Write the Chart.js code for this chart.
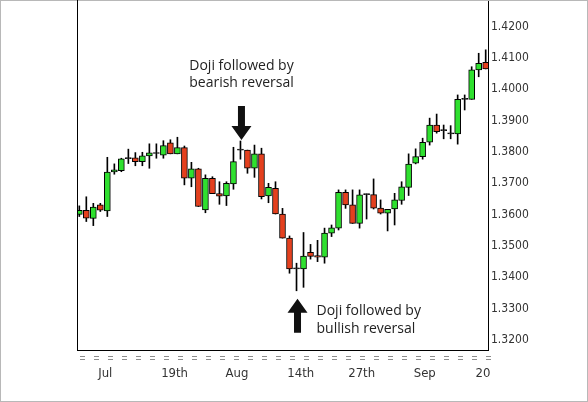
<!DOCTYPE html>
<html>
<head>
<meta charset="utf-8">
<script src="https://cdn.jsdelivr.net/npm/chart.js@4.4.1/dist/chart.umd.min.js"></script>
<style>
  html, body { margin: 0; padding: 0; background: #fff; }
  #wrap { width: 588px; height: 402px; }
</style>
</head>
<body>
<div id="wrap"><canvas id="chart" width="588" height="402"></canvas></div>
<script>
// daily candles, one per trading day (index 0..58)
const opens = [
  1.3601, 1.3614, 1.3588, 1.3631, 1.3612, 1.3736, 1.3740, 1.3779, 1.3781, 1.3769,
  1.3787, 1.3795, 1.3790, 1.3829, 1.3794, 1.3814, 1.3716, 1.3746, 1.3615, 1.3716,
  1.3667, 1.3660, 1.3698, 1.3806, 1.3806, 1.3748, 1.3794, 1.3660, 1.3684, 1.3602,
  1.3525, 1.3427, 1.3427, 1.3480, 1.3469, 1.3464, 1.3541, 1.3557, 1.3671, 1.3631,
  1.3572, 1.3664, 1.3664, 1.3621, 1.3605, 1.3618, 1.3645, 1.3687, 1.3764, 1.3785,
  1.3831, 1.3886, 1.3868, 1.3858, 1.3858, 1.3968, 1.3968, 1.4062, 1.4086,
];
const highs = [
  1.3628, 1.3657, 1.3636, 1.3636, 1.3783, 1.3762, 1.3780, 1.3809, 1.3798, 1.3799,
  1.3826, 1.3826, 1.3836, 1.3839, 1.3847, 1.3819, 1.3767, 1.3748, 1.3727, 1.3721,
  1.3705, 1.3705, 1.3815, 1.3835, 1.3806, 1.3822, 1.3812, 1.3700, 1.3705, 1.3620,
  1.3532, 1.3445, 1.3543, 1.3505, 1.3518, 1.3557, 1.3567, 1.3679, 1.3679, 1.3679,
  1.3679, 1.3666, 1.3714, 1.3647, 1.3617, 1.3668, 1.3705, 1.3794, 1.3810, 1.3844,
  1.3908, 1.3921, 1.3886, 1.3884, 1.3982, 1.3982, 1.4072, 1.4115, 1.4126,
];
const lows = [
  1.3594, 1.3578, 1.3565, 1.3610, 1.3594, 1.3729, 1.3737, 1.3763, 1.3756, 1.3756,
  1.3748, 1.3780, 1.3780, 1.3794, 1.3794, 1.3695, 1.3689, 1.3626, 1.3606, 1.3667,
  1.3633, 1.3629, 1.3681, 1.3777, 1.3732, 1.3719, 1.3650, 1.3638, 1.3602, 1.3525,
  1.3413, 1.3357, 1.3368, 1.3458, 1.3450, 1.3445, 1.3530, 1.3551, 1.3620, 1.3572,
  1.3557, 1.3586, 1.3618, 1.3602, 1.3548, 1.3567, 1.3633, 1.3661, 1.3762, 1.3777,
  1.3822, 1.3860, 1.3842, 1.3842, 1.3825, 1.3934, 1.3968, 1.4040, 1.4065,
];
const closes = [
  1.3614, 1.3589, 1.3624, 1.3614, 1.3736, 1.3743, 1.3778, 1.3779, 1.3769, 1.3788,
  1.3797, 1.3795, 1.3820, 1.3794, 1.3814, 1.3716, 1.3746, 1.3626, 1.3716, 1.3667,
  1.3659, 1.3700, 1.3769, 1.3806, 1.3748, 1.3794, 1.3657, 1.3687, 1.3602, 1.3525,
  1.3427, 1.3427, 1.3468, 1.3467, 1.3464, 1.3541, 1.3558, 1.3671, 1.3631, 1.3572,
  1.3663, 1.3664, 1.3621, 1.3605, 1.3617, 1.3647, 1.3689, 1.3761, 1.3785, 1.3831,
  1.3886, 1.3865, 1.3868, 1.3858, 1.3968, 1.3968, 1.4062, 1.4083, 1.4065,
];

const xTickAt     = [3.7, 13.6, 22.5, 31.6, 40.3, 49.3, 57.6];
const xTickLabels = ['Jul', '19th', 'Aug', '14th', '27th', 'Sep', '20'];
const yTickValues = [1.32, 1.33, 1.34, 1.35, 1.36, 1.37, 1.38, 1.39, 1.40, 1.41, 1.42];

const bearishDoji = 23;
const bullishDoji = 31;

const UP = '#2fe02f', DOWN = '#e4401e', FLAT = '#222';
const TICK_FONT = "'Liberation Sans Narrow', 'DejaVu Sans Condensed', sans-serif";
const NOTE_FONT = "'Open Sans', 'Noto Sans', sans-serif";

const bodies = opens.map((o, i) => ({ x: i, y: [o, closes[i]] }));
const wicks  = lows.map((l, i) => ({ x: i, y: [l, highs[i]] }));
const bodyColors = opens.map((o, i) => closes[i] > o ? UP : closes[i] < o ? DOWN : FLAT);

// drop the half-label padding Chart.js reserves, the frame is fixed
const noPad = s => { s.paddingTop = 0; s.paddingBottom = 0; s.paddingLeft = 0; s.paddingRight = 0; };

const framePlugin = {
  id: 'frame',
  afterDraw(chart) {
    const { ctx, chartArea: { left, bottom, top }, scales: { x } } = chart;
    ctx.save();
    // outer frame of the picture
    ctx.strokeStyle = '#b8b8b8';
    ctx.lineWidth = 1;
    ctx.strokeRect(0.5, 0.5, chart.width - 1, chart.height - 1);
    // left edge of the plot
    ctx.strokeStyle = '#000';
    ctx.beginPath();
    ctx.moveTo(left + 0.5, top);
    ctx.lineTo(left + 0.5, bottom);
    ctx.stroke();
    // double dashes under the time axis, one per two days
    ctx.fillStyle = '#8c8c8c';
    for (let i = 0.5; i < opens.length; i += 2) {
      const px = Math.round(x.getPixelForValue(i));
      ctx.fillRect(px - 3, bottom + 6, 5, 1);
      ctx.fillRect(px - 3, bottom + 9, 5, 1);
    }
    ctx.restore();
  },
};

function arrow(ctx, cx, tipY, dir) {
  // dir = 1 points down, -1 points up
  ctx.beginPath();
  ctx.moveTo(cx, tipY);
  ctx.lineTo(cx - 10, tipY - dir * 14);
  ctx.lineTo(cx - 3.5, tipY - dir * 14);
  ctx.lineTo(cx - 3.5, tipY - dir * 34);
  ctx.lineTo(cx + 3.5, tipY - dir * 34);
  ctx.lineTo(cx + 3.5, tipY - dir * 14);
  ctx.lineTo(cx + 10, tipY - dir * 14);
  ctx.closePath();
  ctx.fill();
}

const notesPlugin = {
  id: 'notes',
  afterDraw(chart) {
    const { ctx, scales: { x, y } } = chart;
    ctx.save();
    ctx.fillStyle = '#111';

    const ax = x.getPixelForValue(bearishDoji) + 1;
    const ay = y.getPixelForValue(highs[bearishDoji]) - 1;
    arrow(ctx, ax, ay, 1);

    const bx = x.getPixelForValue(bullishDoji) + 1;
    const by = y.getPixelForValue(lows[bullishDoji]) + 8;
    arrow(ctx, bx, by, -1);

    ctx.fillStyle = '#222';
    ctx.font = "14px " + NOTE_FONT;
    ctx.textBaseline = 'middle';
    ctx.textAlign = 'center';
    ctx.fillText('Doji followed by', ax, ay - 74);
    ctx.fillText('bearish reversal', ax, ay - 57);
    ctx.textAlign = 'left';
    ctx.fillText('Doji followed by', bx + 19, by + 12);
    ctx.fillText('bullish reversal', bx + 19, by + 30);
    ctx.restore();
  },
};

new Chart(document.getElementById('chart').getContext('2d'), {
  type: 'bar',
  plugins: [framePlugin, notesPlugin],
  data: {
    datasets: [
      {
        label: 'body',
        data: bodies,
        backgroundColor: bodyColors,
        borderColor: '#000',
        borderWidth: 1,
        borderSkipped: false,
        barThickness: 6,
        minBarLength: 1,
        grouped: false,
        order: 1,
      },
      {
        label: 'wick',
        data: wicks,
        backgroundColor: '#000',
        borderWidth: 0,
        barThickness: 1,
        grouped: false,
        order: 2,
      },
    ],
  },
  options: {
    responsive: false,
    animation: false,
    layout: { padding: { left: 77, right: 0, top: 0, bottom: 0 } },
    plugins: { legend: { display: false }, tooltip: { enabled: false } },
    scales: {
      x: {
        type: 'linear',
        offset: false,
        min: -0.33,
        max: 58.33,
        grid: { display: false, drawTicks: false },
        border: { display: true, color: '#000', width: 1 },
        afterBuildTicks: s => { s.ticks = xTickAt.map(v => ({ value: v })); },
        afterFit: s => { s.height = 52; noPad(s); },
        ticks: {
          autoSkip: false,
          maxRotation: 0,
          padding: 16,
          color: '#333',
          font: { family: TICK_FONT, size: 13 },
          callback: (v, i) => xTickLabels[i],
        },
      },
      y: {
        position: 'right',
        min: 1.3168,
        max: 1.4285,
        grid: { display: false, drawTicks: false },
        border: { display: true, color: '#000', width: 1 },
        afterBuildTicks: s => { s.ticks = yTickValues.map(v => ({ value: v })); },
        afterFit: s => { s.width = 100; noPad(s); },
        ticks: {
          padding: 3,
          color: '#333',
          font: { family: TICK_FONT, size: 12 },
          callback: v => v.toFixed(4),
        },
      },
    },
  },
});
</script>
</body>
</html>
